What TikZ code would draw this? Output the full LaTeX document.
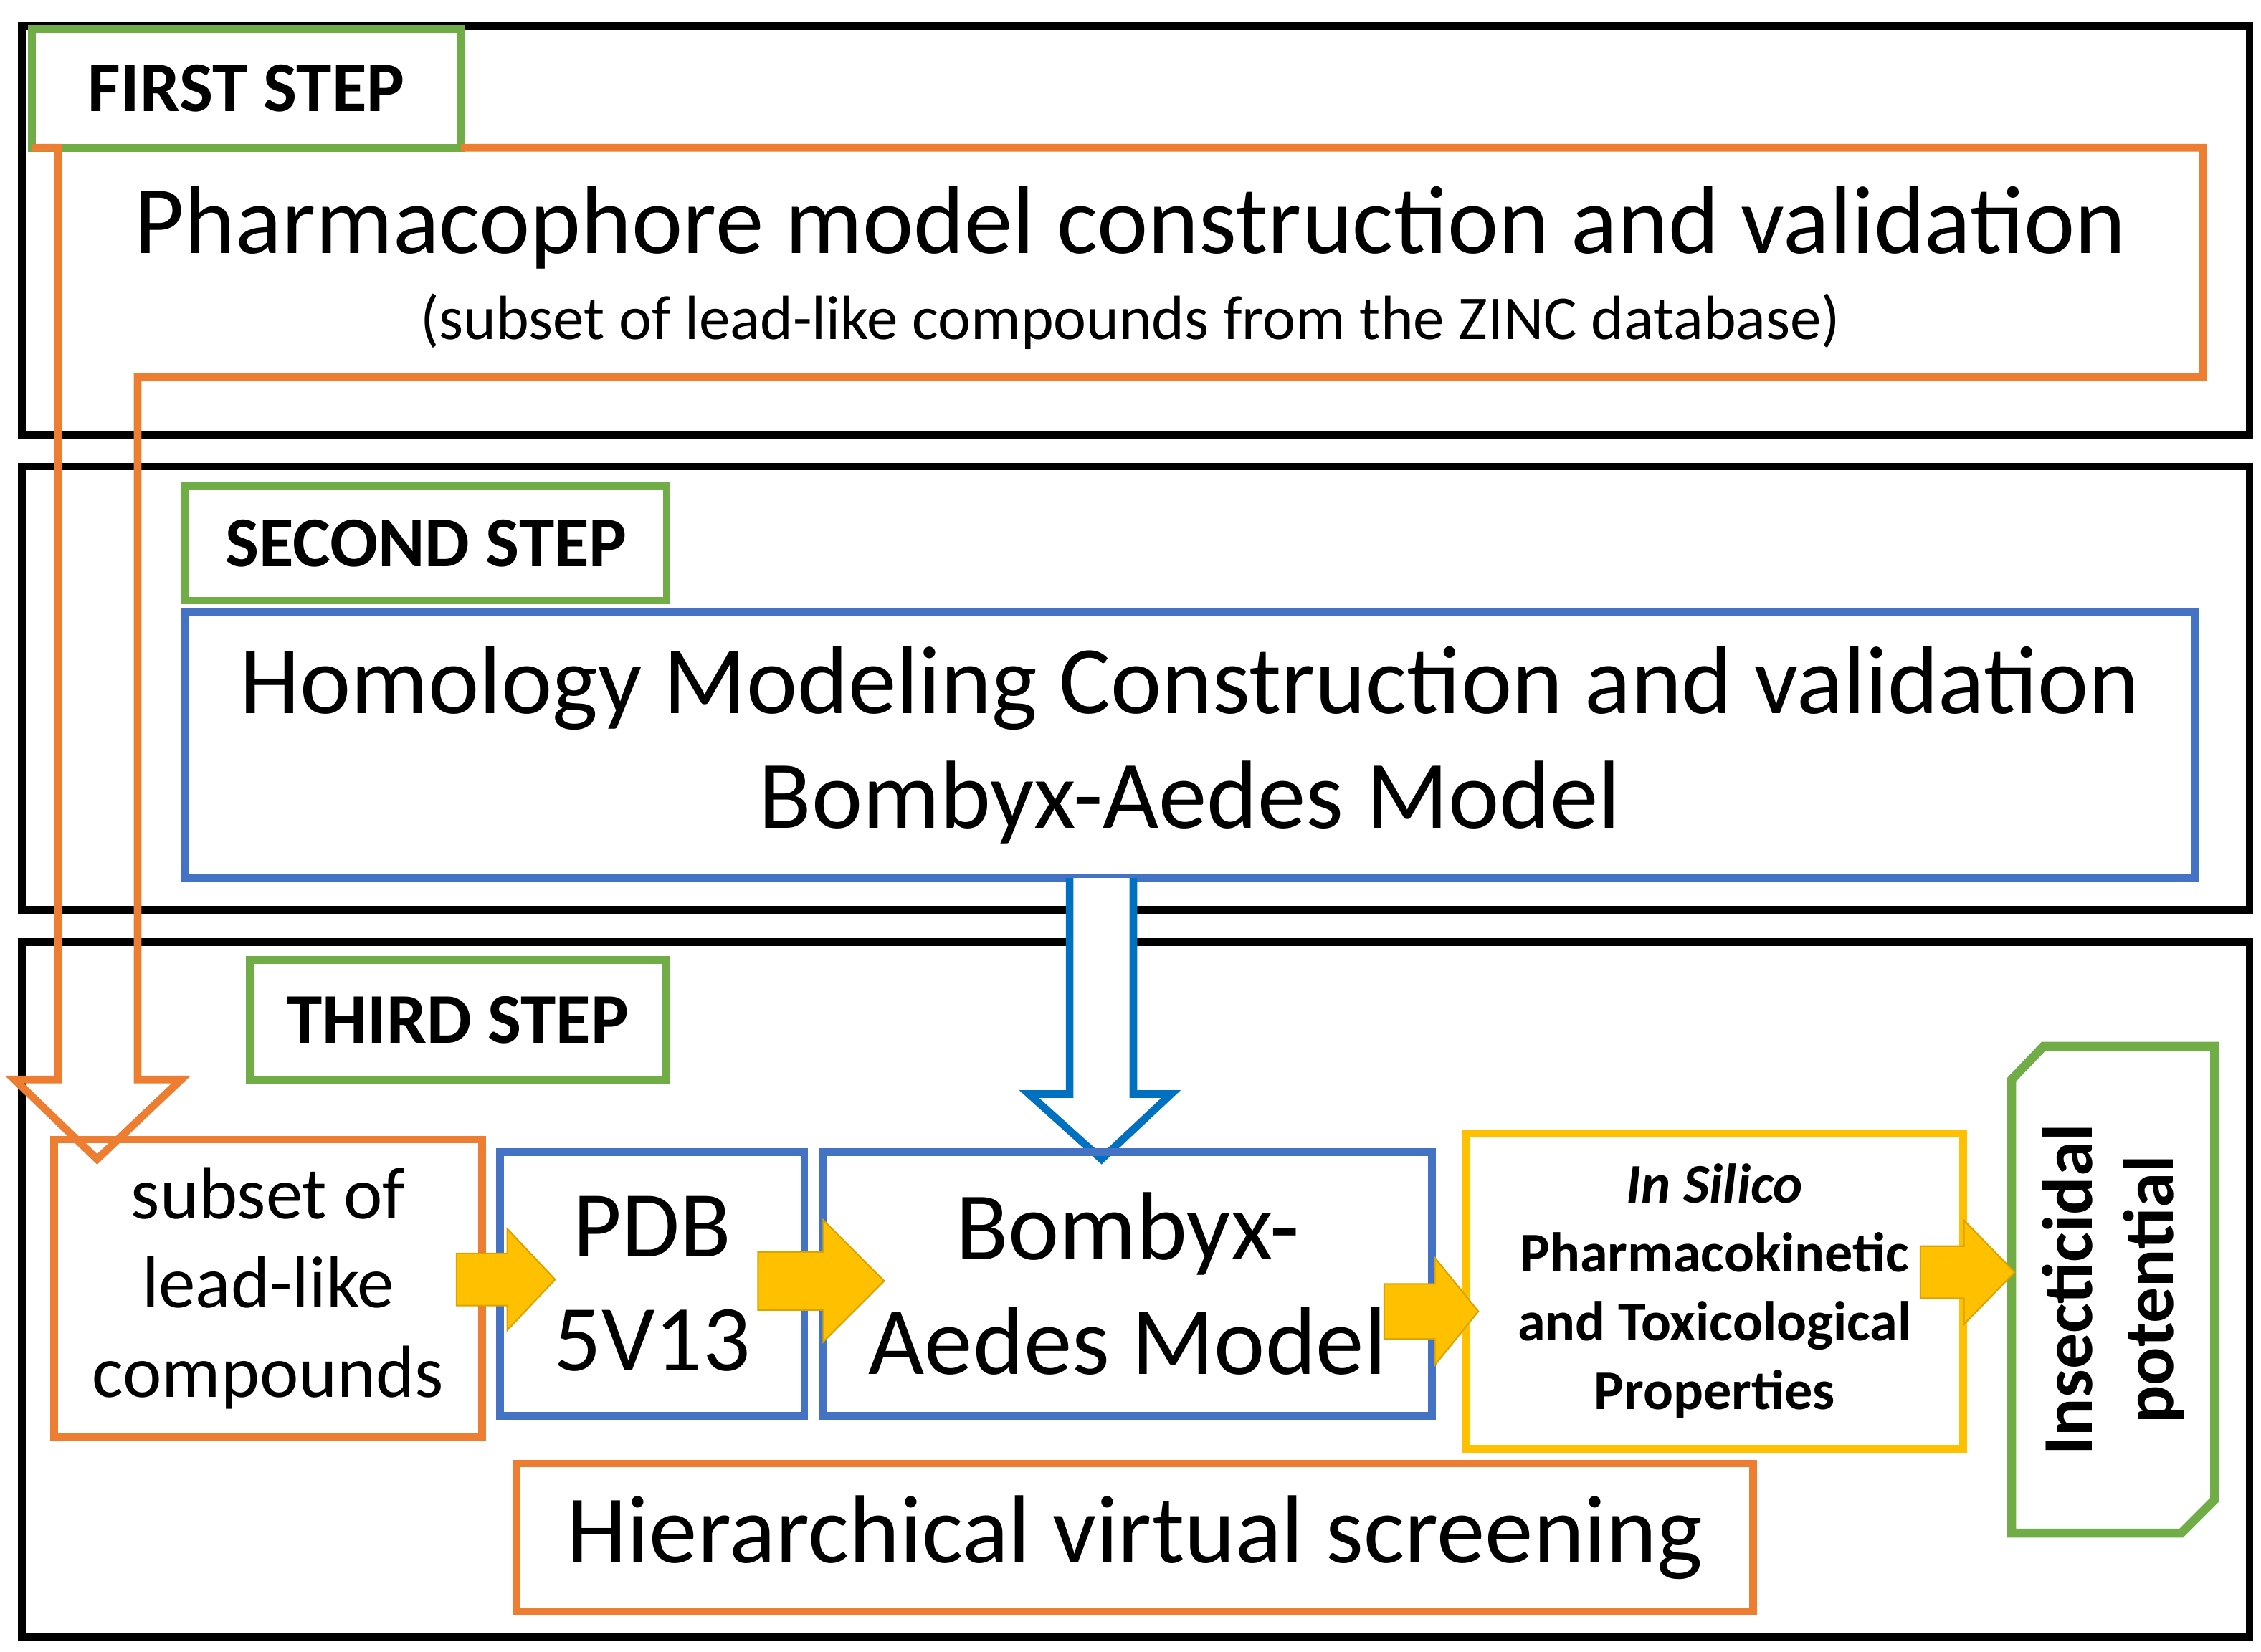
\documentclass[tikz,border=0pt]{standalone}
\usepackage{fontspec}
\setmainfont{Carlito}
\definecolor{or}{HTML}{ED7D31}
\definecolor{bl}{HTML}{4472C4}
\definecolor{gr}{HTML}{70AD47}
\definecolor{ye}{HTML}{FFC000}
\definecolor{ab}{HTML}{0070C0}
\begin{document}
\begin{tikzpicture}[x=0.02cm,y=-0.02cm,
 outer/.style={draw=black,line width=3pt},
 lab/.style={draw=gr,line width=3pt,font=\bfseries\fontsize{28}{32}\selectfont},
 yarr/.style={fill=ye,draw=ye!85!black,line width=0.6pt}]
\useasboundingbox (0,0) rectangle (1560,1140);
\fill[white] (0,0) rectangle (1560,1140);
% outer step boxes
\draw[outer] (15,18) rectangle (1552,300);
\draw[outer] (15,322) rectangle (1552,628);
\draw[outer] (15,650) rectangle (1552,1130);
% first step
\node[lab,minimum width=296*0.02cm,minimum height=82*0.02cm] (s1) at (170,61) {FIRST STEP};
\draw[or,line width=3pt,line join=miter] (318,102) -- (1520,102) -- (1520,260) -- (95,260) -- (95,745) -- (125,745) -- (67,800) -- (10,745) -- (40,745) -- (40,102) -- (22,102);
\node[font=\fontsize{38}{44}\selectfont] (t1) at (780,157) {Pharmacophore model construction and validation};
\node[font=\fontsize{24.5}{28}\selectfont] (t1b) at (780,222) {(subset of lead-like compounds from the ZINC database)};
% second step
\node[lab,minimum width=332*0.02cm,minimum height=79*0.02cm] (s2) at (294,375) {SECOND STEP};
\node[draw=bl,line width=3pt,minimum width=1387*0.02cm,minimum height=184*0.02cm,align=center,font=\fontsize{38}{45}\selectfont] (hm) at (821,514) {Homology Modeling Construction and validation\\Bombyx-Aedes Model};
\draw[ab,line width=3pt,fill=white] (738,606) -- (738,755) -- (710,755) -- (760,800) -- (808,755) -- (782,755) -- (782,606);
% third step
\node[lab,minimum width=287*0.02cm,minimum height=83*0.02cm] (s3) at (316,704) {THIRD STEP};
\node[draw=or,line width=3pt,minimum width=295*0.02cm,minimum height=205*0.02cm,align=center,font=\fontsize{29}{35}\selectfont] (sub) at (185,889) {subset of\\lead-like\\compounds};
\node[draw=bl,line width=3pt,minimum width=210*0.02cm,minimum height=182*0.02cm,align=center,font=\fontsize{37}{45}\selectfont] (pdb) at (450,886) {PDB\\5V13};
\node[draw=bl,line width=3pt,minimum width=420*0.02cm,minimum height=182*0.02cm,align=center,font=\fontsize{38}{45}\selectfont] (bm) at (778,886) {Bombyx-\\Aedes Model};
\node[draw=ye,line width=3pt,minimum width=343*0.02cm,minimum height=218*0.02cm,align=center,font=\bfseries\fontsize{22}{27}\selectfont] (is) at (1183,891) {\textit{In Silico}\\Pharmacokinetic\\and Toxicological\\Properties};
\draw[gr,line width=3.5pt,fill=white] (1410,722) -- (1528,722) -- (1528,1035) -- (1505,1058) -- (1388,1058) -- (1388,745) -- cycle;
\node[rotate=90,align=center,font=\bfseries\fontsize{28}{32}\selectfont] (ins) at (1458,890) {Insecticidal\\potential};
\node[draw=or,line width=3pt,minimum width=853*0.02cm,minimum height=102*0.02cm,font=\fontsize{38}{44}\selectfont] (hv) at (783,1061) {Hierarchical virtual screening};
% yellow arrows
\draw[yarr] (315,865) -- (350,865) -- (350,848) -- (383,883) -- (350,918) -- (350,901) -- (315,901) -- cycle;
\draw[yarr] (523,864) -- (568,864) -- (568,842) -- (610,884) -- (568,926) -- (568,904) -- (523,904) -- cycle;
\draw[yarr] (955,886) -- (990,886) -- (990,868) -- (1020,905) -- (990,942) -- (990,924) -- (955,924) -- cycle;
\draw[yarr] (1325,860) -- (1355,860) -- (1355,842) -- (1390,878) -- (1355,914) -- (1355,896) -- (1325,896) -- cycle;
\end{tikzpicture}
\end{document}
